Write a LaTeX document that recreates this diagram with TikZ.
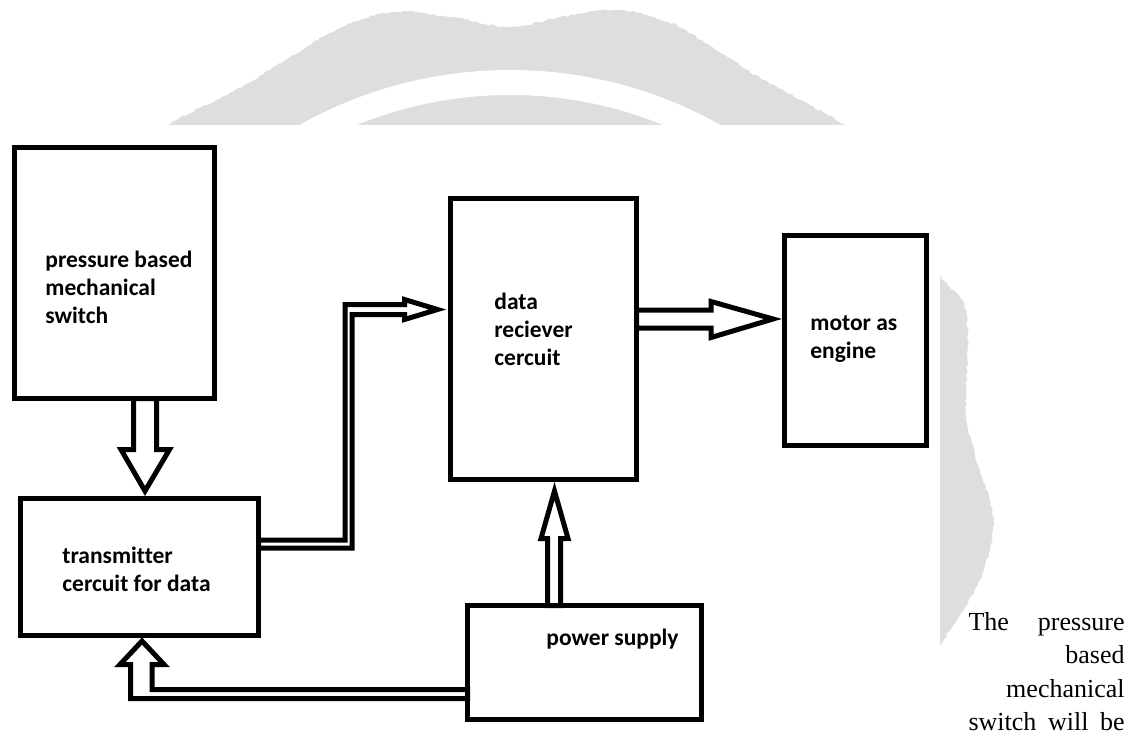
\documentclass[tikz,border=0pt]{standalone}
\usepackage{fontspec}
\usepackage{tikz}
\usetikzlibrary{calc,decorations.pathmorphing}
\newfontfamily\calibri{Carlito}[Ligatures=NoCommon]
\newfontfamily\timesfont{Liberation Serif}
\definecolor{SealGray}{RGB}{222,222,222}

\begin{document}
\begin{tikzpicture}[
  x=0.5pt, y=-0.5pt,
  blk/.style={rectangle, draw=black, fill=white, line width=2.5pt, inner sep=0pt, outer sep=0pt},
  lbl/.style={font=\calibri\bfseries\fontsize{11.75}{14}\selectfont, align=left, inner sep=0pt, anchor=base west},
  blockarrow/.style={draw=black, fill=white, line width=2.5pt, line join=miter},
  para/.style={font=\timesfont\fontsize{13}{16.8}\selectfont, text width=78pt, align=right, inner sep=0pt},
]
\useasboundingbox (0,0) rectangle (1137,735);
% seal behind the pasted figure
\fill[SealGray, decorate, decoration={random steps, segment length=1.5pt, amplitude=0.5pt}]
  plot[smooth, tension=0.6] coordinates {(158,130) (200,108) (245,85) (290,57) (340,28) (392,12) (450,17) (510,27) (565,16) (620,10) (668,22) (708,44) (760,78) (810,105) (855,135) (905,205) (940,275) (962,300) (968,335) (966,410) (975,455) (990,500) (993,530) (982,575) (962,612) (940,645)}
  -- (700,700) -- (160,700) -- cycle;
\fill[white, even odd rule] (510,500) circle[radius=430] (510,500) circle[radius=405];
\fill[white] (0,125) rectangle (940,735);

% blocks
\node[blk, minimum width=100pt, minimum height=125.5pt] (sw) at (114.5,273) {};
\node[blk, minimum width=119pt, minimum height=68.5pt] (tx) at (139.5,567) {};
\node[blk, minimum width=93pt, minimum height=140.5pt] (rx) at (543.5,339) {};
\node[blk, minimum width=71pt, minimum height=105pt] (mo) at (855.5,340.5) {};
\node[blk, minimum width=117pt, minimum height=57pt] (ps) at (584.5,662.5) {};

% labels (base = last line)
\node[lbl] (swlbl) at (45,323) {pressure based\\mechanical\\switch};
\node[lbl] (txlbl) at (62,591) {transmitter\\cercuit for data};
\node[lbl] (rxlbl) at (494,365) {data\\reciever\\cercuit};
\node[lbl] (molbl) at (810,358) {motor as\\engine};
\node[lbl] (pslbl) at (546,645) {power supply};

% hollow arrows
\draw[blockarrow] ($(sw.south)+(19,0)$) -- ++(0,51) -- ++(-12.5,0) -- ($(tx.north)+(5.5,-7.5)$)
  -- ++(24.5,-41.5) -- ++(-13,0) -- ++(0,-51) -- cycle;
\draw[blockarrow] ($(tx.east)+(0,-27)$) -- ++(86.5,0) -- ++(0,-235.5) -- ++(59.5,0) -- ++(0,-5)
  -- ($(rx.west)+(-13,-29.5)$) -- ++(-33,10) -- ++(0,-5) -- ++(-52.5,0) -- ++(0,233.5) -- ++(-93.5,0) -- cycle;
\draw[blockarrow] ($(rx.east)+(0,-29)$) -- ++(74.5,0) -- ++(0,-8.5) -- ($(mo.west)+(-11.5,-21.5)$)
  -- ++(-62,18.5) -- ++(0,-9.5) -- ++(-74.5,0) -- cycle;
\draw[blockarrow] ($(ps.north)+(-37,0)$) -- ++(0,-67) -- ++(-6.5,0) -- ($(rx.south)+(11,11.5)$)
  -- ++(13.5,47.5) -- ++(-7.5,0) -- ++(0,67) -- cycle;
\draw[blockarrow] ($(ps.west)+(0,27)$) -- ++(-315.5,0) -- ++(0,-25) -- ++(12,0) -- ($(tx.south)+(2.5,5.5)$)
  -- ++(-22,23.5) -- ++(10.5,0) -- ++(0,34) -- ++(337,0) -- cycle;

\node[para, anchor=base east] (note) at (1125,630) {The\hfill pressure\\based\\mechanical\\switch\hfill will\hfill be};
\end{tikzpicture}
\end{document}
